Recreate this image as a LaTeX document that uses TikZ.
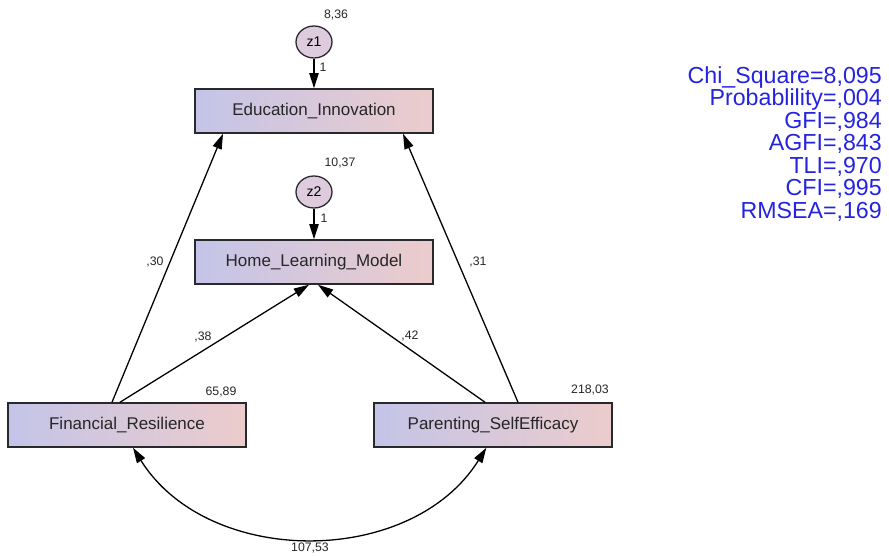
\documentclass[tikz,border=0pt]{standalone}
\usepackage{fontspec}
\setmainfont{Liberation Sans}
\usetikzlibrary{arrows.meta, shapes.geometric, positioning}
\definecolor{boxleft}{RGB}{196,196,232}
\definecolor{boxright}{RGB}{236,204,204}
\definecolor{errfill}{RGB}{222,204,222}
\definecolor{fitblue}{RGB}{35,35,225}
\definecolor{edgegray}{RGB}{40,40,45}
\tikzset{%
>={Triangle[length=13pt,width=8pt]},
  % Specifications for style of nodes:
            obs/.style = {rectangle, draw=edgegray, line width=1.3pt,
                            left color=boxleft, right color=boxright,
                            minimum width=7.14cm, minimum height=1.32cm,
                            font=\fontsize{14.5}{16}\selectfont, text=black!85},
            err/.style = {ellipse, draw=edgegray, line width=1.1pt, fill=errfill,
                            minimum width=1.08cm, minimum height=0.96cm, inner sep=0pt,
                            font=\fontsize{12}{14}\selectfont},
            est/.style = {font=\fontsize{10.5}{12}\selectfont, inner sep=0pt, text=black!85},
            gof/.style = {font=\fontsize{19.8}{19.2}\selectfont, text=fitblue,
                            align=right, inner sep=0pt},
            reg/.style = {->, line width=1.1pt}
}
\begin{document}
\begin{tikzpicture}[x=0.03cm, y=-0.03cm]
                        \useasboundingbox (0,0) rectangle (889,555);
                        % observed variables
                        \node[obs] (ei) at (314,111) {Education\_Innovation};
                        \node[obs] (hlm) at (314,262) {Home\_Learning\_Model};
                        \node[obs] (fr) at (127,425) {Financial\_Resilience};
                        \node[obs] (ps) at (493,425) {Parenting\_SelfEfficacy};
                        % residuals
                        \node[err] (z1) at (314,42) {z1};
                        \node[err] (z2) at (314,192) {z2};
                        \draw[reg] (z1)--(ei);
                        \draw[reg] (z2)--(hlm);
                        \draw[reg] ([xshift=-0.45cm]fr.north)--([xshift=-2.73cm]ei.south);
                        \draw[reg] ([xshift=-0.21cm]fr.north)--([xshift=-0.15cm]hlm.south);
                        \draw[reg] ([xshift=0.75cm]ps.north)--([xshift=2.67cm]ei.south);
                        \draw[reg] ([xshift=-0.24cm]ps.north)--([xshift=0.12cm]hlm.south);
                        \draw[<->, line width=1.1pt] ([xshift=0.18cm]fr.south)
                            .. controls +(75,120) and +(-75,120) .. ([xshift=-0.2cm]ps.south);
                        % estimates
                        \node[est] (v1) at (336,15) {8,36};
                        \node[est] (w1) at (323,67) {1};
                        \node[est] (v2) at (340,163) {10,37};
                        \node[est] (w2) at (324,218) {1};
                        \node[est] (b1) at (155,262) {,30};
                        \node[est] (b2) at (203,337) {,38};
                        \node[est] (b3) at (410,336) {,42};
                        \node[est] (b4) at (478,262) {,31};
                        \node[est] (v3) at (221,392) {65,89};
                        \node[est] (v4) at (590,390) {218,03};
                        \node[est] (c1) at (310,548) {107,53};
                        % fit indices
                        \node[gof, anchor=north east] (stats) at (882,66)
                            {Chi\_Square=8,095\\Probablility=,004\\GFI=,984\\AGFI=,843\\TLI=,970\\CFI=,995\\RMSEA=,169};
                    \end{tikzpicture}
\end{document}
